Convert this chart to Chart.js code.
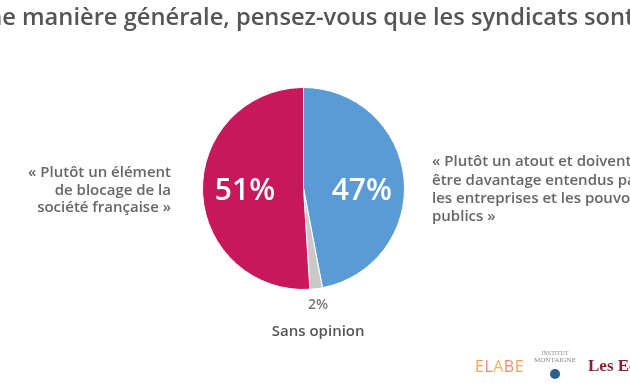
<!DOCTYPE html>
<html>
<head>
<meta charset="utf-8">
<script src="https://cdn.jsdelivr.net/npm/chart.js@4"></script>
<style>
    html, body { margin: 0; padding: 0; background: #fff; overflow: hidden; }
    #wrap { width: 630px; height: 390px; position: relative; }
</style>
</head>
<body>
<div id="wrap"><canvas id="graf" width="630" height="390"></canvas></div>
<script>
// data
const kategorier = ["Plutôt un atout", "Sans opinion", "Plutôt un élément de blocage"];
const verdier = [47, 2, 51];
const farger = ["#5b9bd5", "#c9c9c9", "#c8175a"];
const etiketter = ["47%", "2%", "51%"];

const tittel = "D'une manière générale, pensez-vous que les syndicats sont… ?";
const venstreTekst = ["« Plutôt un élément", "de blocage de la", "société française »"];
const hoyreTekst = ["« Plutôt un atout et doivent", "être davantage entendus par", "les entreprises et les pouvoirs", "publics »"];

const tekstPlugin = {
    id: "tekster",
    afterDraw(chart) {
        const ctx = chart.ctx;
        const arcs = chart.getDatasetMeta(0).data;
        ctx.save();

        // tittel, kuttet i begge kanter som i bildet
        ctx.font = "600 23.7px 'Open Sans'";
        ctx.fillStyle = "#555";
        ctx.textBaseline = "alphabetic";
        ctx.textAlign = "left";
        const forstykke = ctx.measureText("D'une ").width;
        ctx.fillText(tittel, 22 - forstykke, 25);

        // prosenter inne i kaken
        arcs.forEach(function (arc, i) {
            const p = arc.getProps(["x", "y", "startAngle", "endAngle", "outerRadius"], true);
            const midt = (p.startAngle + p.endAngle) / 2;
            if (verdier[i] < 5) {
                const r = p.outerRadius + 16;
                ctx.font = "600 14px 'Open Sans'";
                ctx.fillStyle = "#777";
                ctx.textAlign = "center";
                ctx.textBaseline = "middle";
                ctx.fillText(etiketter[i], p.x + Math.cos(midt) * r, p.y + Math.sin(midt) * r);
                ctx.font = "600 15px 'Open Sans'";
                ctx.fillStyle = "#555";
                ctx.fillText(kategorier[i], p.x + Math.cos(midt) * r, p.y + Math.sin(midt) * r + 27);
            } else {
                const r = p.outerRadius * 0.58;
                ctx.font = "600 30px 'Open Sans'";
                ctx.fillStyle = "#fff";
                ctx.textAlign = "center";
                ctx.textBaseline = "middle";
                ctx.fillText(etiketter[i], p.x + Math.cos(midt) * r, p.y + 3);
            }
        });

        // sidetekster
        ctx.font = "600 15px 'Open Sans'";
        ctx.fillStyle = "#666";
        ctx.textBaseline = "middle";
        ctx.textAlign = "right";
        venstreTekst.forEach(function (linje, i) {
            ctx.fillText(linje, 171, 173 + i * 17.5);
        });
        ctx.textAlign = "left";
        hoyreTekst.forEach(function (linje, i) {
            ctx.fillText(linje, 432, 162 + i * 18.3);
        });

        // logoer
        ctx.textBaseline = "alphabetic";
        ctx.font = "400 16px 'Open Sans'";
        const bokstaver = ["E", "L", "A", "B", "E"];
        const bFarger = ["#f0a35a", "#e98d6a", "#f2b25e", "#e9906f", "#f0a35a"];
        let bx = 475;
        bokstaver.forEach(function (b, i) {
            ctx.fillStyle = bFarger[i];
            ctx.fillText(b, bx, 372);
            bx += ctx.measureText(b).width + 0.5;
        });
        ctx.fillStyle = "#888";
        ctx.textAlign = "center";
        ctx.font = "6px 'Liberation Serif'";
        ctx.fillText("INSTITUT", 555, 355);
        ctx.font = "7px 'Liberation Serif'";
        ctx.fillText("MONTAIGNE", 555, 362);
        ctx.fillStyle = "#2f5f8f";
        ctx.beginPath();
        ctx.arc(555, 374, 5, 0, Math.PI * 2);
        ctx.fill();
        ctx.textAlign = "left";
        ctx.fillStyle = "#8c1c2e";
        ctx.font = "bold 17px 'Liberation Serif'";
        ctx.fillText("Les Echos", 588, 371);

        ctx.restore();
    }
};

const config = {
    type: "pie",
    data: {
        labels: kategorier,
        datasets: [{
            data: verdier,
            backgroundColor: farger,
            borderColor: "#fff",
            borderWidth: 1
        }]
    },
    options: {
        responsive: false,
        animation: false,
        layout: { padding: { top: 87, bottom: 100, left: 202, right: 225 } },
        plugins: {
            legend: { display: false },
            tooltip: { enabled: false }
        }
    },
    plugins: [tekstPlugin]
};

const myChart = new Chart(document.getElementById("graf"), config);
</script>
</body>
</html>
